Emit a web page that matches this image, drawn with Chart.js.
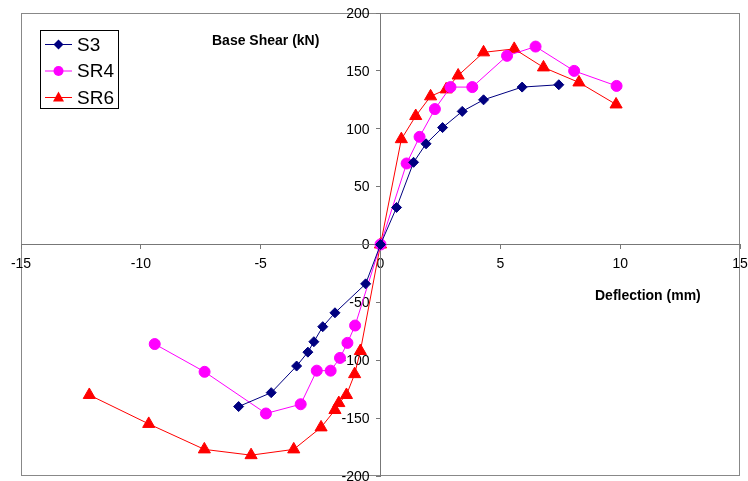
<!DOCTYPE html>
<html>
<head>
<meta charset="utf-8">
<script src="https://cdn.jsdelivr.net/npm/chart.js@4/dist/chart.umd.min.js"></script>
<style>
    body { margin: 0; background: #fff; }
    #wrap { width: 748px; height: 481px; }
</style>
</head>
<body>
<div id="wrap"><canvas id="statchart" width="748" height="481"></canvas></div>
<script>
var seriesNames = ['S3', 'SR4', 'SR6'];

var s3X = [-5.92, -4.56, -3.5, -3.03, -2.78, -2.41, -1.9, -0.62, 0, 0.67, 1.38, 1.9, 2.59, 3.41, 4.3, 5.91, 7.44];
var s3Y = [-140, -128, -105, -93, -84, -71, -59, -34, 0, 32, 71, 87, 101, 115, 125, 136, 138];

var sr4X = [-9.42, -7.34, -4.78, -3.33, -2.66, -2.08, -1.69, -1.38, -1.06, 0, 1.09, 1.63, 2.27, 2.92, 3.83, 5.28, 6.47, 8.08, 9.85];
var sr4Y = [-86, -110, -146, -138, -109, -109, -98, -85, -70, 0, 70, 93, 117, 136, 136, 163, 171, 150, 137];

var sr6X = [-12.15, -9.67, -7.35, -5.4, -3.62, -2.48, -1.9, -1.74, -1.42, -1.08, -0.84, 0, 0.87, 1.47, 2.09, 2.74, 3.24, 4.3, 5.58, 6.8, 8.28, 9.83];
var sr6Y = [-130, -155, -177, -182, -177, -158, -143, -137, -130, -112, -92, 0, 91, 111, 128, 134, 146, 166, 169, 153, 140, 121];

var xTicks = [-15, -10, -5, 0, 5, 10, 15];
var yTicks = [-200, -150, -100, -50, 0, 50, 100, 150, 200];

var xTitle = 'Deflection (mm)';
var yTitle = 'Base Shear (kN)';

function toPoints(xs, ys) {
    var pts = [];
    for (var i = 0; i < xs.length; i++) {
        pts.push({x: xs[i], y: ys[i]});
    }
    return pts;
}

function prepareDetails(label, pts, color, style, radius, order) {
    return {
        label: label,
        data: pts,
        showLine: true,
        borderColor: color,
        borderWidth: 1,
        backgroundColor: color,
        pointBackgroundColor: color,
        pointBorderColor: color,
        pointStyle: style,
        pointRadius: radius,
        pointBorderWidth: 1,
        tension: 0,
        order: order
    };
}

var datasets = [
    prepareDetails(seriesNames[0], toPoints(s3X, s3Y), '#000080', 'rectRot', 5, 1),
    prepareDetails(seriesNames[1], toPoints(sr4X, sr4Y), '#ff00ff', 'circle', 5.5, 2),
    prepareDetails(seriesNames[2], toPoints(sr6X, sr6Y), '#ff0000', 'triangle', 7, 3)
];

var fontFamily = 'Arial, "Liberation Sans", sans-serif';

// frame around plot area, y tick labels, custom legend box and the two axis titles
var decorations = {
    id: 'decorations',
    beforeDraw: function (chart) {
        var ctx = chart.ctx;
        var a = chart.chartArea;
        ctx.save();
        ctx.fillStyle = '#fff';
        ctx.fillRect(0, 0, chart.width, chart.height);
        ctx.strokeStyle = '#888';
        ctx.lineWidth = 1;
        ctx.strokeRect(Math.round(a.left) + 0.5, Math.round(a.top) + 0.5, Math.round(a.right - a.left) - 1, Math.round(a.bottom - a.top) - 1);

        // y labels sit a bit left of the axis line
        var axisX = chart.scales.x.getPixelForValue(0);
        ctx.fillStyle = '#000';
        ctx.font = '14px ' + fontFamily;
        ctx.textAlign = 'right';
        ctx.textBaseline = 'middle';
        for (var i = 0; i < yTicks.length; i++) {
            ctx.fillText(String(yTicks[i]), axisX - 11, chart.scales.y.getPixelForValue(yTicks[i]) + 1);
        }
        ctx.restore();
    },
    afterDraw: function (chart) {
        var ctx = chart.ctx;
        ctx.save();
        ctx.fillStyle = '#000';
        ctx.font = 'bold 14px ' + fontFamily;
        ctx.textBaseline = 'middle';
        ctx.textAlign = 'left';
        ctx.fillText(yTitle, 212, 41);
        ctx.fillText(xTitle, 595, 296);

        // legend
        ctx.fillStyle = '#fff';
        ctx.fillRect(41, 31, 77, 78);
        ctx.strokeStyle = '#000';
        ctx.lineWidth = 1;
        ctx.strokeRect(40.5, 30.5, 78, 78);
        ctx.font = '19px ' + fontFamily;
        var rows = [44.5, 71, 97.5];
        for (var i = 0; i < datasets.length; i++) {
            var ds = datasets[i];
            var y = rows[i];
            ctx.strokeStyle = ds.borderColor;
            ctx.beginPath();
            ctx.moveTo(45, y);
            ctx.lineTo(72, y);
            ctx.stroke();
            ctx.fillStyle = ds.borderColor;
            ctx.beginPath();
            if (ds.pointStyle === 'rectRot') {
                ctx.moveTo(58.5, y - 5);
                ctx.lineTo(63.5, y);
                ctx.lineTo(58.5, y + 5);
                ctx.lineTo(53.5, y);
            } else if (ds.pointStyle === 'circle') {
                ctx.arc(58.5, y, 5, 0, Math.PI * 2);
            } else {
                ctx.moveTo(58.5, y - 6);
                ctx.lineTo(64, y + 4);
                ctx.lineTo(53, y + 4);
            }
            ctx.closePath();
            ctx.fill();
            ctx.fillStyle = '#000';
            ctx.fillText(ds.label, 77, y + 1);
        }
        ctx.restore();
    }
};

var tickFont = {family: fontFamily, size: 14};

var chart = new Chart(document.getElementById('statchart').getContext('2d'), {
    type: 'scatter',
    data: {datasets: datasets},
    options: {
        responsive: false,
        animation: false,
        layout: {autoPadding: false, padding: {left: 21, top: 13, right: 8, bottom: 5}},
        plugins: {legend: {display: false}, tooltip: {enabled: false}},
        scales: {
            x: {
                type: 'linear',
                min: -15,
                max: 15,
                position: {y: 0},
                afterBuildTicks: function (scale) {
                    scale.ticks = xTicks.map(function (v) { return {value: v}; });
                },
                afterFit: function (scale) {
                    scale.height = 0;
                    scale.paddingLeft = 0;
                    scale.paddingRight = 0;
                    scale.paddingTop = 0;
                    scale.paddingBottom = 0;
                },
                grid: {drawOnChartArea: false, drawTicks: true, tickLength: 4, color: '#777'},
                border: {display: true, color: '#777', width: 1},
                ticks: {color: '#000', font: tickFont, padding: 7, maxRotation: 0, autoSkip: false}
            },
            y: {
                type: 'linear',
                min: -200,
                max: 200,
                position: {x: 0},
                afterBuildTicks: function (scale) {
                    scale.ticks = yTicks.map(function (v) { return {value: v}; });
                },
                afterFit: function (scale) {
                    scale.width = 0;
                    scale.paddingLeft = 0;
                    scale.paddingRight = 0;
                    scale.paddingTop = 0;
                    scale.paddingBottom = 0;
                },
                grid: {drawOnChartArea: false, drawTicks: true, tickLength: 4, color: '#777'},
                border: {display: true, color: '#777', width: 1},
                ticks: {display: false}
            }
        }
    },
    plugins: [decorations]
});
</script>
</body>
</html>
